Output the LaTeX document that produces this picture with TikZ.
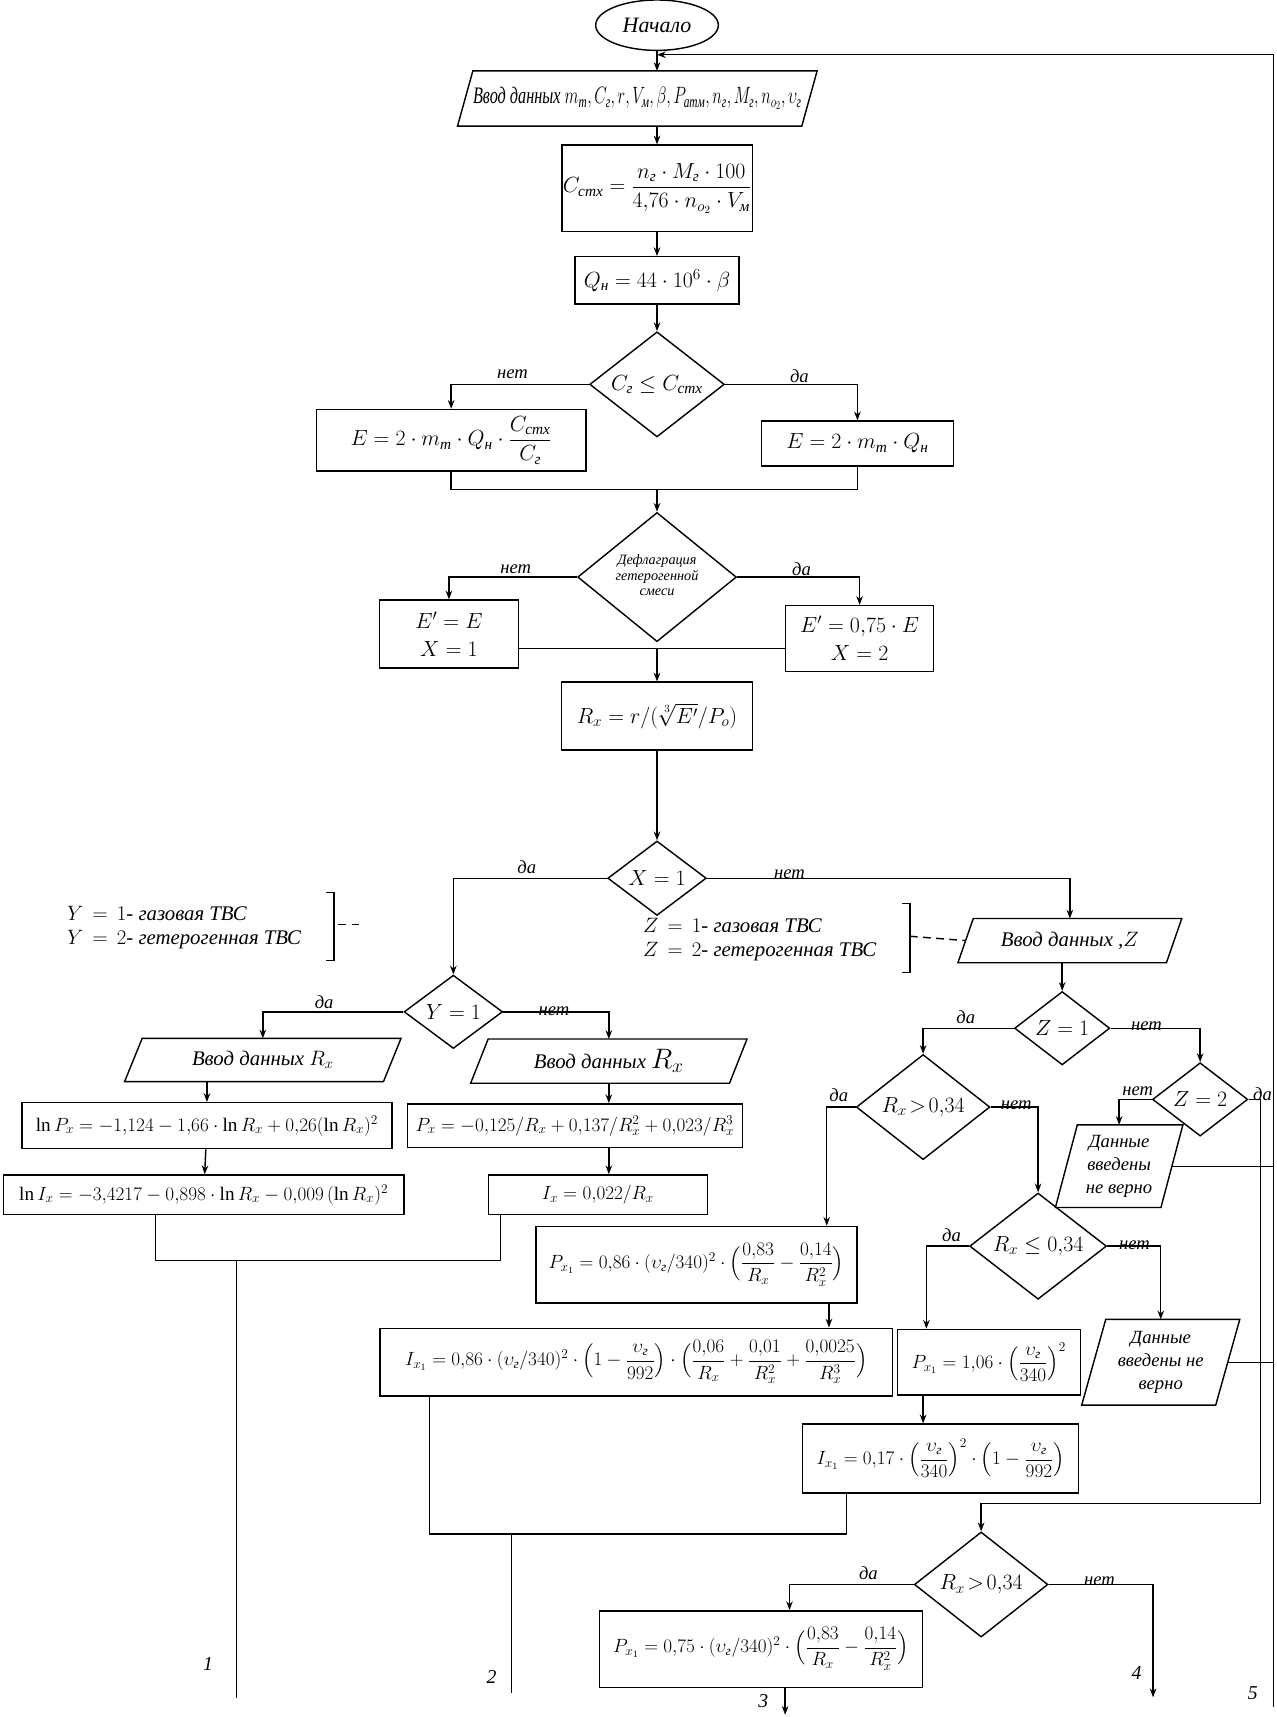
\documentclass[tikz,border=0pt]{standalone}
\usepackage{fix-cm}
\usepackage{amsmath}
\usepackage{graphicx}
\usepackage{fontspec}
\setmainfont{Liberation Serif}
\usetikzlibrary{shapes.geometric,arrows.meta,calc}
\newcommand{\ru}[1]{\text{\itshape #1}}
\newcommand{\pgram}[2]{\draw[lw] ([xshift=#2]#1.north west) -- ([xshift=#2]#1.north east) -- ([xshift=-#2]#1.south east) -- ([xshift=-#2]#1.south west) -- cycle;}
\tikzset{
  lw/.style={line width=1.3pt},
  pbox/.style={draw, lw, rectangle, inner sep=1pt, align=center},
  pg/.style={rectangle, inner sep=0pt, align=center},
  dia/.style={draw, lw, diamond, inner sep=0pt},
  arr/.style={lw, -{Stealth[length=8pt,width=6pt]}},
  lab/.style={font=\fontsize{17}{17}\selectfont\itshape, inner sep=1pt, anchor=south},
  numlab/.style={font=\fontsize{18}{18}\selectfont\itshape, inner sep=0pt},
  fbig/.style={font=\fontsize{20}{24}\selectfont\itshape},
  fmid/.style={font=\fontsize{19}{22}\selectfont\itshape},
  ferr/.style={font=\fontsize{17}{21}\selectfont\itshape},
  fsml/.style={font=\fontsize{17.5}{20}\selectfont},
  fdef/.style={font=\fontsize{13}{14}\selectfont\itshape},
}
\begin{document}
\begin{tikzpicture}[x=1pt,y=-1pt]
\useasboundingbox (0,0) rectangle (1165.3,1568);

% ---------- top ----------
\node[draw,lw,ellipse,minimum width=112,minimum height=46,inner sep=0,fbig] (start) at (600,23) {Начало};
\node[pg,minimum width=314,minimum height=50,fbig] (in1) at (582,90)
  {\resizebox{300pt}{15pt}{Ввод данных $m_{\ru{т}}{,}\,C_{\ru{г}}{,}\,r{,}\,V_{\ru{м}}{,}\,\beta{,}\,P_{\ru{атм}}{,}\,n_{\ru{г}}{,}\,M_{\ru{г}}{,}\,n_{o_2}{,}\,\upsilon_{\ru{г}}$}};
\pgram{in1}{7pt}
\coordinate (rtop) at (1163,50);
\coordinate (rbot) at (1163,1559);

\node[pbox,minimum width=150,minimum height=79,fbig] (cst) at (600,172)
  {$C_{\ru{стх}} = \dfrac{n_{\ru{г}}\cdot M_{\ru{г}}\cdot 100}{4{,}76\cdot n_{o_2}\cdot V_{\ru{м}}}$};
\node[pbox,minimum width=150,minimum height=43,fbig] (q) at (600,256)
  {$Q_{\ru{н}} = 44\cdot 10^6\cdot \beta$};
\node[dia,minimum width=123,minimum height=96,fbig] (d1) at (600,351)
  {\makebox[0pt]{$C_{\ru{г}} \le C_{\ru{стх}}$}};
\node[pbox,minimum width=246,minimum height=56,fbig] (e1) at (412,402)
  {$E = 2\cdot m_{\ru{т}}\cdot Q_{\ru{н}}\cdot \dfrac{C_{\ru{стх}}}{C_{\ru{г}}}$};
\node[pbox,minimum width=175,minimum height=41,fbig] (e2) at (783,405)
  {$E = 2\cdot m_{\ru{т}}\cdot Q_{\ru{н}}$};
\coordinate (m1) at (600,447);
\node[dia,minimum width=145,minimum height=118,fdef] (d2) at (600,527)
  {\makebox[0pt]{\begin{tabular}{@{}c@{}}Дефлаграция\\гетерогенной\\смеси\end{tabular}}};
\node[pbox,minimum width=127,minimum height=62,fbig] (ep1) at (410,579)
  {$E' = E$\\[2pt]$X = 1$};
\node[pbox,minimum width=135,minimum height=60,fbig] (ep2) at (785,583)
  {$E' = 0{,}75\cdot E$\\[2pt]$X = 2$};
\coordinate (m2) at (600,592);
\node[pbox,minimum width=174,minimum height=62,fbig] (rx) at (600,654)
  {$R_x = r/(\sqrt[3]{E'}/P_o)$};

% connectors top
\draw[arr] (start.south) -- (start.south |- in1.north);
\draw[arr] (rbot) -- (rtop) -- (start.south |- rtop);
\draw[arr] (in1.south -| cst.north) -- (cst.north);
\draw[arr] (cst) -- (q);
\draw[arr] (q) -- (d1);
\draw[arr] (d1.west) -| (e1.north);
\draw[arr] (d1.east) -| (e2.north);
\node[lab] (t1) at (468,347) {нет};
\node[lab] (t2) at (730,351) {да};
\draw[lw] (e1.south) |- (m1) -| (e2.south);
\draw[arr] (m1) -- (d2.north);
\draw[arr] (d2.west) -| (ep1.north);
\draw[arr] (d2.east) -| (ep2.north);
\node[lab] (t3) at (471,525) {нет};
\node[lab] (t4) at (732,527) {да};
\draw[lw] (ep1.east |- m2) -- (ep2.west |- m2);
\draw[arr] (m2) -- (rx.north);

% ---------- X = 1 ----------
\node[dia,minimum width=90,minimum height=68,fbig] (dx) at (600,802) {\makebox[0pt]{$X = 1$}};
\draw[arr] (rx) -- (dx);

\node[anchor=west,align=left,fmid,inner sep=0] (ytext) at (61,847)
  {$Y\,=\,1$- газовая ТВС\\$Y\,=\,2$- гетерогенная ТВС};
\coordinate (yb1) at (298,815);
\coordinate (yb2) at (305,815);
\coordinate (yb3) at (305,877);
\coordinate (yb4) at (298,877);
\draw[lw] (yb1) -- (yb2) -- (yb3) -- (yb4);
\coordinate (yd1) at (309,844);
\coordinate (yd2) at (332,844);
\draw[lw,dash pattern=on 7pt off 5pt] (yd1) -- (yd2);

\node[anchor=west,align=left,fmid,inner sep=0] (ztext) at (587,858)
  {$Z\,=\,1$- газовая ТВС\\$Z\,=\,2$- гетерогенная ТВС};
\coordinate (zb1) at (824,825);
\coordinate (zb2) at (831,825);
\coordinate (zb3) at (831,888);
\coordinate (zb4) at (824,888);
\draw[lw] (zb1) -- (zb2) -- (zb3) -- (zb4);
\coordinate (zd1) at (831,855);

\node[pg,minimum width=190,minimum height=40,fmid] (inz) at (977,859) {Ввод данных ,$Z$};
\pgram{inz}{7pt}
\draw[lw,dash pattern=on 7pt off 5pt] (zd1) -- (inz.west);

\node[dia,minimum width=90,minimum height=67,fbig] (dy) at (414,924) {\makebox[0pt]{$Y = 1$}};
\draw[arr] (dx.west) -| (dy.north);
\draw[arr] (dx.east) -| (inz.north);
\node[lab] (t5) at (481,799) {да};
\node[lab] (t6) at (721,804) {нет};

% ---------- Y branch ----------
\node[pg,minimum width=236,minimum height=39,fmid] (iny1) at (240,968) {Ввод данных $R_x$};
\pgram{iny1}{8pt}
\node[pg,minimum width=236,minimum height=40,fmid] (iny2) at (556,969) {Ввод данных $\scalebox{1.35}{$R_x$}$};
\pgram{iny2}{8pt}
\draw[arr] (dy.west) -| (iny1.north);
\draw[arr] (dy.east) -| (iny2.north);
\node[lab] (t7) at (296,922) {да};
\node[lab] (t8) at (506,929) {нет};

\node[pbox,minimum width=338,minimum height=42,fsml] (lnp) at (189,1028)
  {$\ln P_x = -1{,}124 - 1{,}66\cdot \ln R_x + 0{,}26(\ln R_x)^2$};
\node[pbox,minimum width=306,minimum height=40,fsml] (px) at (525,1028)
  {$P_x = -0{,}125/R_x + 0{,}137/R_x^2 + 0{,}023/R_x^3$};
\node[pbox,minimum width=366,minimum height=36,fsml] (lni) at (186,1091)
  {$\ln I_x = -3{,}4217 - 0{,}898\cdot \ln R_x - 0{,}009\,(\ln R_x)^2$};
\node[pbox,minimum width=200,minimum height=36,fsml] (ix) at (546,1091)
  {$I_x = 0{,}022/R_x$};
\draw[arr] (iny1.south -| lnp.north) -- (lnp.north);
\coordinate (iny2s) at (iny2.south);
\draw[arr] (iny2s) -- (iny2s |- px.north);
\draw[arr] (lnp) -- (lni);
\coordinate (pxs) at ([xshift=31pt]px.south);
\draw[arr] (pxs) -- (pxs |- ix.north);
\coordinate (m3) at (216,1151);
\coordinate (lnis) at ([xshift=-44pt]lni.south);
\coordinate (ixs) at ([xshift=-89pt]ix.south);
\draw[lw] (lnis) |- (m3) -| (ixs);
\coordinate (end1) at (216,1551);
\draw[lw] (m3) -- (end1);
\node[numlab] (n1) at (190,1520) {1};

% ---------- Z branch ----------
\node[dia,minimum width=87,minimum height=67,fbig] (dz1) at (970,939) {\makebox[0pt]{$Z = 1$}};
\node[dia,minimum width=87,minimum height=67,fbig] (dz2) at (1096,1004) {\makebox[0pt]{$Z = 2$}};
\draw[arr] (inz.south -| dz1.north) -- (dz1.north);
\node[dia,minimum width=122,minimum height=96,fbig] (dr1) at (843,1011) {\makebox[0pt]{$R_x\!>\!0{,}34$}};
\draw[arr] (dz1.west) -| (dr1.north);
\draw[arr] (dz1.east) -| (dz2.north);
\node[lab] (t9) at (882,936) {да};
\node[lab] (t10) at (1047,942) {нет};

\node[pg,minimum width=96,minimum height=75,ferr] (err1) at (1022,1065)
  {Данные\\введены\\не верно};
\pgram{err1}{10pt}
\draw[arr] (dz2.west) -| (err1.north);
\node[lab] (t11) at (1039,1002) {нет};
\coordinate (c5) at (1151,1373);
\node[lab] (t12) at (1153,1006) {да};
\draw[lw] (err1.east) -- (err1.east -| rbot);

\node[dia,minimum width=125,minimum height=97,fbig] (dr2) at (948,1138) {\makebox[0pt]{$R_x \le 0{,}34$}};
\draw[arr] (dr1.east) -| (dr2.north);
\node[lab] (t13) at (766,1007) {да};
\node[lab] (t14) at (928,1015) {нет};

\node[pg,minimum width=122,minimum height=78,ferr] (err2) at (1060,1244)
  {Данные\\введены не\\верно};
\pgram{err2}{11pt}
\draw[arr] (dr2.east) -| (err2.north);
\draw[lw] (err2.east) -- (err2.east -| rbot);
\node[lab] (t15) at (869,1135) {да};
\node[lab] (t16) at (1036,1142) {нет};

\node[pbox,minimum width=293,minimum height=70,fsml] (p1) at (636,1155)
  {$P_{x_1} = 0{,}86\cdot(\upsilon_{\ru{г}}/340)^2\cdot\Big(\dfrac{0{,}83}{R_x} - \dfrac{0{,}14}{R_x^2}\Big)$};
\coordinate (p1n) at ([xshift=119pt]p1.north);
\draw[arr] (dr1.west) -| (p1n);

\node[pbox,minimum width=468,minimum height=62,fsml] (i1) at (581,1244)
  {$I_{x_1} = 0{,}86\cdot(\upsilon_{\ru{г}}/340)^2\cdot\Big(1-\dfrac{\upsilon_{\ru{г}}}{992}\Big)\cdot\Big(\dfrac{0{,}06}{R_x} + \dfrac{0{,}01}{R_x^2} + \dfrac{0{,}0025}{R_x^3}\Big)$};
\coordinate (p1s) at ([xshift=121pt]p1.south);
\draw[arr] (p1s) -- (p1s |- i1.north);

\node[pbox,minimum width=167,minimum height=60,fsml] (p2) at (903,1244)
  {$P_{x_1} = 1{,}06\cdot\Big(\dfrac{\upsilon_{\ru{г}}}{340}\Big)^2$};
\coordinate (p2n) at ([xshift=-57pt]p2.north);
\draw[arr] (dr2.west) -| (p2n);

\node[pbox,minimum width=252,minimum height=63,fsml] (i2) at (859,1332)
  {$I_{x_1} = 0{,}17\cdot\Big(\dfrac{\upsilon_{\ru{г}}}{340}\Big)^2\cdot\Big(1-\dfrac{\upsilon_{\ru{г}}}{992}\Big)$};
\coordinate (p2s) at ([xshift=-60pt]p2.south);
\draw[arr] (p2s) -- (p2s |- i2.north);

\coordinate (m4) at (467,1401);
\coordinate (i1s) at ([xshift=-189pt]i1.south);
\coordinate (i2s) at ([xshift=-86pt]i2.south);
\draw[lw] (i1s) |- (m4) -| (i2s);
\coordinate (end2) at (467,1546);
\draw[lw] (m4) -- (end2);
\node[numlab] (n2) at (449,1531) {2};

% ---------- bottom ----------
\node[dia,minimum width=122,minimum height=96,fbig] (dr3) at (896,1447) {\makebox[0pt]{$R_x\!>\!0{,}34$}};
\draw[arr] (dz2.east) -| (c5) -| (dr3.north);
\node[pbox,minimum width=295,minimum height=70,fsml] (p3) at (695,1506)
  {$P_{x_1} = 0{,}75\cdot(\upsilon_{\ru{г}}/340)^2\cdot\Big(\dfrac{0{,}83}{R_x} - \dfrac{0{,}14}{R_x^2}\Big)$};
\coordinate (p3n) at ([xshift=26pt]p3.north);
\draw[arr] (dr3.west) -| (p3n);
\node[lab] (t17) at (793,1444) {да};
\coordinate (end4) at (1053,1550);
\draw[arr] (dr3.east) -| (end4);
\node[lab] (t18) at (1004,1449) {нет};
\coordinate (p3s) at ([xshift=22pt]p3.south);
\coordinate (end3) at (717,1566);
\draw[arr] (p3s) -- (end3);
\node[numlab] (n3) at (697,1553) {3};
\node[numlab] (n4) at (1038,1528) {4};
\node[numlab] (n5) at (1144,1546) {5};
\end{tikzpicture}
\end{document}
